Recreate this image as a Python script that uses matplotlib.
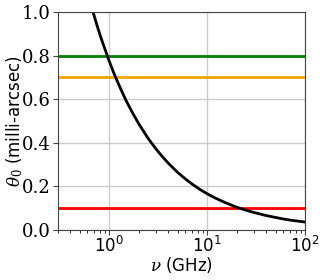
import matplotlib
matplotlib.use("Agg")
import matplotlib.pyplot as plt

plt.rcParams["mathtext.fontset"] = "dejavuserif"

# curve values
nu = [0.65, 0.7, 0.75, 0.8, 0.85, 0.9, 1.0, 1.1, 1.2, 1.35, 1.5, 1.75, 2.0,
      2.5, 3.0, 3.5, 4.0, 5.0, 6.0, 7.0, 8.5, 10.0, 12.0, 15.0, 20.0, 25.0,
      30.0, 40.0, 50.0, 60.0, 70.0, 85.0, 100.0]
theta = [1.036, 0.986, 0.941, 0.901, 0.865, 0.834, 0.776, 0.727, 0.687,
         0.635, 0.591, 0.534, 0.488, 0.420, 0.372, 0.336, 0.307, 0.264,
         0.234, 0.211, 0.185, 0.166, 0.147, 0.127, 0.104, 0.090, 0.080,
         0.066, 0.057, 0.050, 0.045, 0.040, 0.036]

# horizontal reference levels
levels = [0.8, 0.7, 0.1]
level_colors = ["green", "orange", "red"]

fig = plt.figure(figsize=(3.27, 2.80), dpi=100)
ax = fig.add_axes([0.177, 0.179, 0.756, 0.778])

for lv, c in zip(levels, level_colors):
    ax.axhline(lv, color=c, linewidth=2)
ax.plot(nu, theta, color="black", linewidth=2)

ax.set_xscale("log")
ax.set_xlim(0.3, 100)
ax.set_ylim(0, 1)
ax.set_yticks([0.0, 0.2, 0.4, 0.6, 0.8, 1.0])
ax.grid(True, which="major", color="#cccccc", linewidth=1)
ax.set_axisbelow(True)

for s in ax.spines.values():
    s.set_color("#444444")
ax.tick_params(labelsize=13, colors="#444444", labelcolor="black", pad=1.5)
ax.tick_params(axis="x", labelsize=12, pad=1)
for lab in ax.get_yticklabels():
    lab.set_family("DejaVu Serif")
ax.set_xlabel(r"$\nu$ (GHz)", fontsize=12, labelpad=-1)
ax.set_ylabel(r"$\theta_0$ (milli-arcsec)", fontsize=12, labelpad=-2)

fig.savefig("out.png", dpi=100)
